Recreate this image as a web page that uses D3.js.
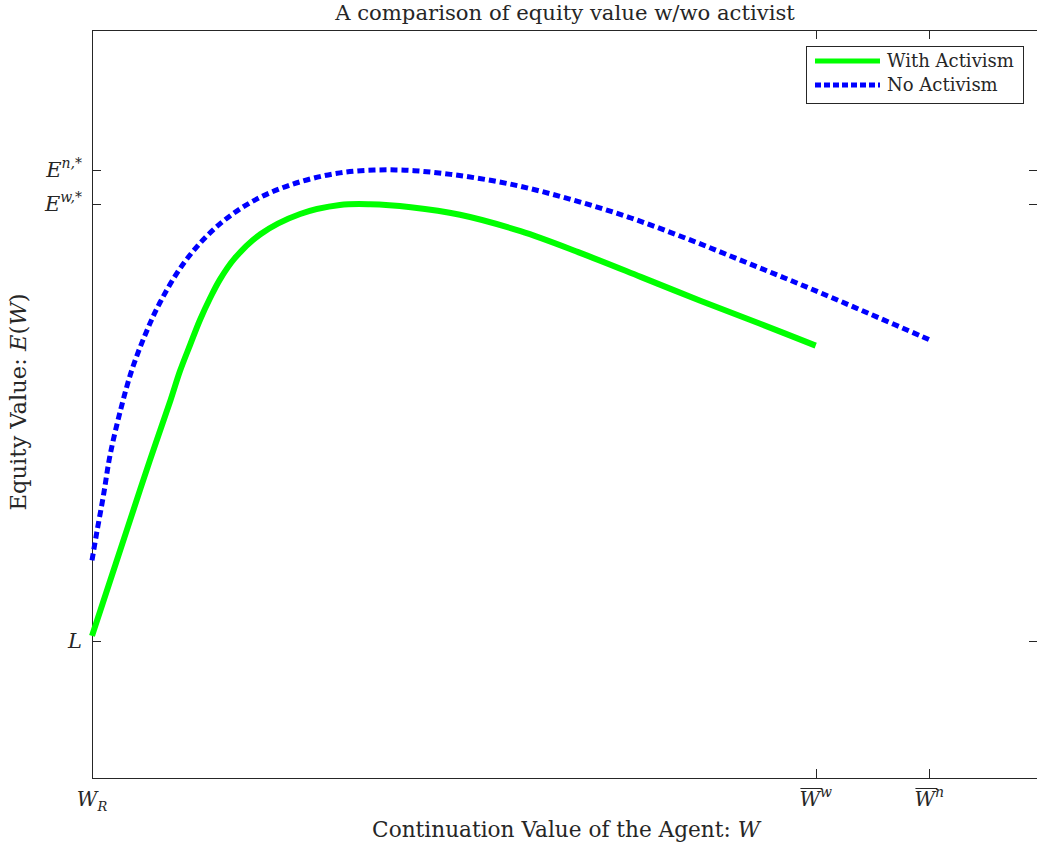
<!DOCTYPE html>
<html>
<head>
<meta charset="utf-8">
<script src="https://cdn.jsdelivr.net/npm/d3@7"></script>
<style>
  html, body { margin: 0; padding: 0; background: #fff; }
  svg { display: block; }
  text { font-family: "DejaVu Serif", "Liberation Serif", serif; fill: #262626; }
</style>
</head>
<body>
<svg id="chart" width="1037" height="846"></svg>
<script>
// ---- data (normalised units) ----
const withW = [0, 0.019, 0.038, 0.061, 0.083, 0.093, 0.104, 0.114, 0.125, 0.135, 0.151, 0.178, 0.220, 0.262, 0.294, 0.337, 0.389, 0.453, 0.516, 0.580, 0.643, 0.707, 0.765];
const withE = [0.190, 0.263, 0.336, 0.424, 0.505, 0.544, 0.580, 0.612, 0.642, 0.666, 0.695, 0.727, 0.754, 0.766, 0.767, 0.763, 0.753, 0.731, 0.702, 0.670, 0.638, 0.607, 0.578];
const noW = [0, 0.005, 0.012, 0.019, 0.030, 0.042, 0.056, 0.072, 0.098, 0.130, 0.167, 0.210, 0.262, 0.321, 0.379, 0.442, 0.505, 0.569, 0.633, 0.696, 0.760, 0.823, 0.885];
const noE = [0.291, 0.328, 0.377, 0.431, 0.491, 0.545, 0.592, 0.636, 0.690, 0.735, 0.769, 0.793, 0.809, 0.813, 0.807, 0.794, 0.774, 0.749, 0.719, 0.687, 0.654, 0.620, 0.586];
const xTickVals = [0, 0.765, 0.885];
const xTickLabels = [["W", "R", "sub"], ["W", "w", "over"], ["W", "n", "over"]];
const yTickVals = [0.183, 0.767, 0.813];
const yTickLabels = [["L", ""], ["E", "w,*"], ["E", "n,*"]];
const seriesNames = ["With Activism", "No Activism"];

const svg = d3.select("#chart");
const m = {left: 92, top: 30, right: 1038, bottom: 778};
const x = d3.scaleLinear().domain([0, 1]).range([m.left, m.right]);
const y = d3.scaleLinear().domain([0, 1]).range([m.bottom, m.top]);
const axisCol = "#262626";

function fit(t, target, base) {
  const w = t.node().getComputedTextLength();
  t.attr("font-size", base * target / w);
}

// box
svg.append("rect").attr("x", m.left + 0.5).attr("y", m.top + 0.5)
  .attr("width", m.right - m.left).attr("height", m.bottom - m.top)
  .attr("fill", "none").attr("stroke", axisCol).attr("stroke-width", 1);

// ticks (inward, mirrored)
const tl = 9;
xTickVals.forEach(v => {
  const px = Math.round(x(v)) + 0.5;
  svg.append("line").attr("x1", px).attr("x2", px).attr("y1", m.bottom).attr("y2", m.bottom - tl).attr("stroke", axisCol);
  svg.append("line").attr("x1", px).attr("x2", px).attr("y1", m.top).attr("y2", m.top + tl).attr("stroke", axisCol);
});
yTickVals.forEach(v => {
  const py = Math.round(y(v)) + 0.5;
  svg.append("line").attr("x1", m.left).attr("x2", m.left + tl).attr("y1", py).attr("y2", py).attr("stroke", axisCol);
  svg.append("line").attr("x1", m.right).attr("x2", m.right - tl).attr("y1", py).attr("y2", py).attr("stroke", axisCol);
});

// y tick labels
yTickVals.forEach((v, i) => {
  const [base, sup] = yTickLabels[i];
  const t = svg.append("text").attr("x", 82).attr("y", y(v) + 7)
    .attr("text-anchor", "end").attr("font-size", 21);
  t.append("tspan").attr("font-style", "italic").text(base);
  if (sup) t.append("tspan").attr("font-style", "italic").attr("font-size", 14).attr("dy", -9).text(sup);
});

// x tick labels
xTickVals.forEach((v, i) => {
  const [base, s, kind] = xTickLabels[i];
  const g = svg.append("g");
  const t = g.append("text").attr("x", x(v)).attr("y", 806)
    .attr("text-anchor", "middle").attr("font-size", 20);
  t.append("tspan").attr("font-style", "italic").text(base);
  if (kind === "sub") {
    t.append("tspan").attr("font-style", "italic").attr("font-size", 13).attr("dy", 5).text(s);
  } else {
    t.append("tspan").attr("font-style", "italic").attr("font-size", 14).attr("dy", -9).text(s);
    const bb = t.node().getBBox();
    g.append("line").attr("x1", bb.x + 1).attr("x2", bb.x + 23)
      .attr("y1", 788.5).attr("y2", 788.5).attr("stroke", axisCol).attr("stroke-width", 1);
  }
});

// curves
const line = d3.line().x(d => x(d[0])).y(d => y(d[1])).curve(d3.curveCatmullRom.alpha(0.5));
svg.append("path").datum(noW.map((w, i) => [w, noE[i]]))
  .attr("d", line).attr("fill", "none").attr("stroke", "#0000ff")
  .attr("stroke-width", 5).attr("stroke-dasharray", "7,4");
svg.append("path").datum(withW.map((w, i) => [w, withE[i]]))
  .attr("d", line).attr("fill", "none").attr("stroke", "#00ff00")
  .attr("stroke-width", 6);

// title and axis labels
const title = svg.append("text").attr("x", 565).attr("y", 20).attr("text-anchor", "middle")
  .attr("font-size", 18).text("A comparison of equity value w/wo activist");
fit(title, 460, 18);
const xl = svg.append("text").attr("x", 566).attr("y", 837).attr("text-anchor", "middle").attr("font-size", 18);
xl.append("tspan").text("Continuation Value of the Agent: ");
xl.append("tspan").attr("font-style", "italic").text("W");
fit(xl, 388, 18);
const yl = svg.append("text").attr("transform", "translate(26,402) rotate(-90)")
  .attr("text-anchor", "middle").attr("font-size", 18);
yl.append("tspan").text("Equity Value: ");
yl.append("tspan").attr("font-style", "italic").text("E");
yl.append("tspan").text("(");
yl.append("tspan").attr("font-style", "italic").text("W");
yl.append("tspan").text(")");
fit(yl, 217, 18);

// legend
const lg = svg.append("g");
lg.append("rect").attr("x", 806.5).attr("y", 46.5).attr("width", 217).attr("height", 57)
  .attr("fill", "#fff").attr("stroke", axisCol);
lg.append("line").attr("x1", 815).attr("x2", 880).attr("y1", 61).attr("y2", 61)
  .attr("stroke", "#00ff00").attr("stroke-width", 5);
lg.append("line").attr("x1", 815).attr("x2", 880).attr("y1", 85).attr("y2", 85)
  .attr("stroke", "#0000ff").attr("stroke-width", 5).attr("stroke-dasharray", "6,3");
const l1 = lg.append("text").attr("x", 887).attr("y", 67).attr("font-size", 16).text(seriesNames[0]);
fit(l1, 127, 16);
lg.append("text").attr("x", 887).attr("y", 91).attr("font-size", l1.attr("font-size")).text(seriesNames[1]);
</script>
</body>
</html>
